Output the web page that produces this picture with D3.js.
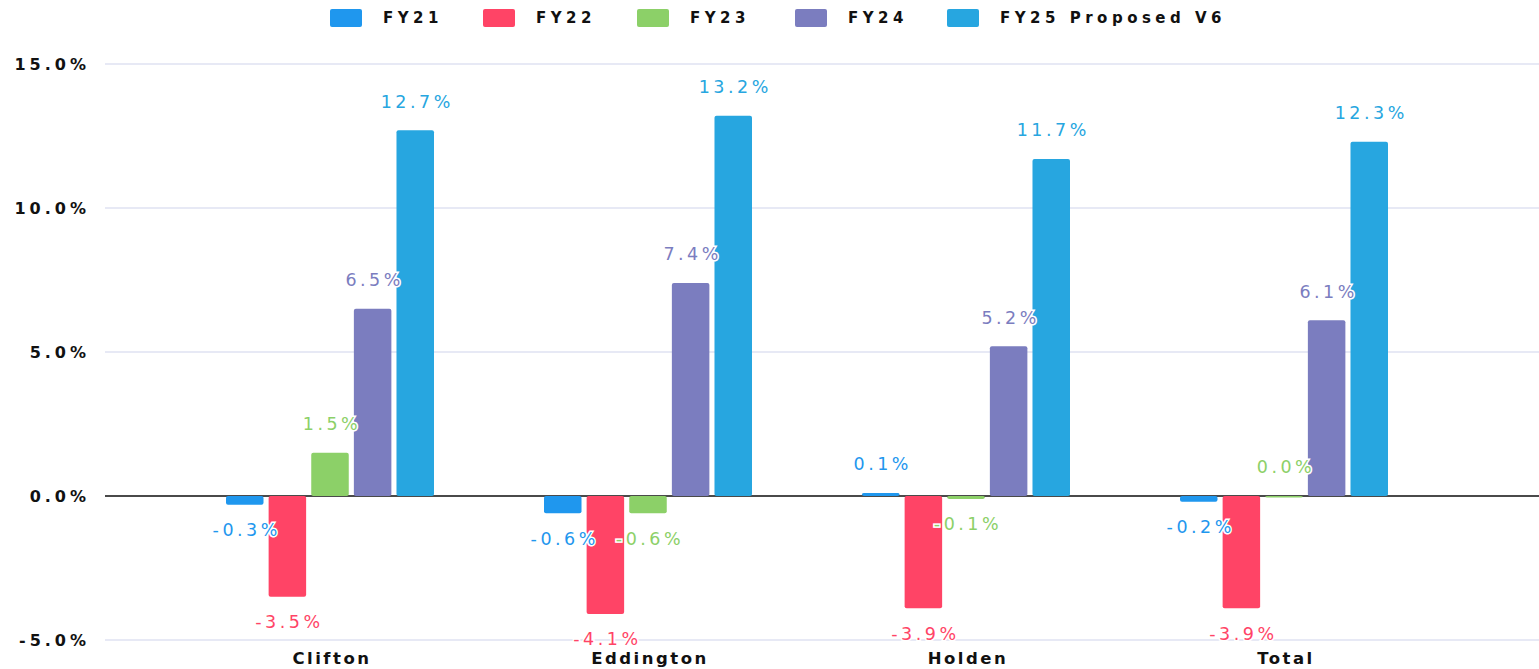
<!DOCTYPE html>
<html>
<head>
<meta charset="utf-8">
<script src="https://cdn.jsdelivr.net/npm/d3@7"></script>
<style>
  html, body { margin: 0; padding: 0; background: #fff; }
  svg { display: block; }
</style>
</head>
<body>
<svg id="chart" width="1539" height="669"></svg>
<script>
const categories = ["Clifton", "Eddington", "Holden", "Total"];
const seriesNames = ["FY21", "FY22", "FY23", "FY24", "FY25 Proposed V6"];
const fy21 = [-0.3, -0.6, 0.1, -0.2];
const fy22 = [-3.5, -4.1, -3.9, -3.9];
const fy23 = [1.5, -0.6, -0.1, 0.0];
const fy24 = [6.5, 7.4, 5.2, 6.1];
const fy25 = [12.7, 13.2, 11.7, 12.3];
const seriesColors = ["#1f97ee", "#ff4466", "#8cd068", "#7b7dbf", "#27a6e0"];
const yTicks = [-5, 0, 5, 10, 15];

const seriesValues = [fy21, fy22, fy23, fy24, fy25];
const svg = d3.select("#chart");

const y = d3.scaleLinear().domain([-5, 15]).range([640, 64]);
const x0 = d3.scaleBand().domain(categories).range([171, 1443]).padding(0);
const groupW = 208;
const x1 = d3.scaleBand().domain(seriesNames)
  .range([(x0.bandwidth() - groupW) / 2, (x0.bandwidth() + groupW) / 2])
  .paddingInner(0.12).paddingOuter(0);

// gridlines
const yAxis = d3.axisLeft(y).tickValues(yTicks).tickSize(0).tickPadding(0)
  .tickFormat(d => d.toFixed(1) + "%");

const grid = svg.append("g");
grid.selectAll("line").data(yTicks).join("line")
  .attr("x1", 105).attr("x2", 1539)
  .attr("y1", d => y(d)).attr("y2", d => y(d))
  .attr("stroke", d => d === 0 ? "#4a4a4a" : "#dfe2f2")
  .attr("stroke-width", d => d === 0 ? 2 : 1.5);

const ax = svg.append("g").attr("transform", "translate(90,0)").call(yAxis);
ax.select(".domain").remove();
ax.selectAll("text")
  .attr("font-family", "DejaVu Sans, sans-serif")
  .attr("font-weight", "bold")
  .attr("font-size", 16)
  .attr("letter-spacing", "4px")
  .attr("fill", "#111")
  .attr("dy", "0.36em");

// bars
const rows = [];
categories.forEach((c, i) => {
  seriesNames.forEach((s, j) => {
    rows.push({ cat: c, series: s, value: seriesValues[j][i], color: seriesColors[j] });
  });
});

const bars = svg.append("g");
bars.selectAll("rect").data(rows).join("rect")
  .attr("x", d => x0(d.cat) + x1(d.series))
  .attr("width", x1.bandwidth())
  .attr("y", d => Math.min(y(d.value), y(0)))
  .attr("height", d => Math.max(Math.abs(y(d.value) - y(0)), 1.5))
  .attr("rx", 2)
  .attr("fill", d => d.color);

// value labels
const labels = svg.append("g");
labels.selectAll("text").data(rows).join("text")
  .attr("x", d => x0(d.cat) + x1(d.series) + x1.bandwidth() / 2 + 2)
  .attr("y", d => d.value >= 0 ? y(d.value) - 29 : y(d.value) + 25)
  .attr("dy", "0.36em")
  .attr("text-anchor", "middle")
  .attr("font-family", "DejaVu Sans, sans-serif")
  .attr("font-size", 17.5)
  .attr("letter-spacing", "3.5px")
  .attr("fill", d => d.color)
  .attr("stroke", "#fff")
  .attr("stroke-width", 3)
  .attr("paint-order", "stroke")
  .text(d => d.value.toFixed(1) + "%");

// category labels
svg.append("g").selectAll("text").data(categories).join("text")
  .attr("x", d => x0(d) + x0.bandwidth() / 2 + 2)
  .attr("y", 658)
  .attr("dy", "0.36em")
  .attr("text-anchor", "middle")
  .attr("font-family", "DejaVu Sans, sans-serif")
  .attr("font-weight", "bold")
  .attr("font-size", 16.5)
  .attr("letter-spacing", "2.5px")
  .attr("fill", "#111")
  .text(d => d);

// legend
const legendPos = [330, 483, 637, 795, 947];
const lg = svg.append("g").selectAll("g").data(seriesNames).join("g")
  .attr("transform", (d, i) => `translate(${legendPos[i]},9)`);
lg.append("rect").attr("width", 32).attr("height", 18).attr("rx", 2)
  .attr("fill", (d, i) => seriesColors[i]);
lg.append("text").attr("x", 53).attr("y", 9).attr("dy", "0.36em")
  .attr("font-family", "DejaVu Sans, sans-serif")
  .attr("font-weight", "bold")
  .attr("font-size", 15)
  .attr("letter-spacing", "4.5px")
  .attr("fill", "#111")
  .text(d => d);
</script>
</body>
</html>
